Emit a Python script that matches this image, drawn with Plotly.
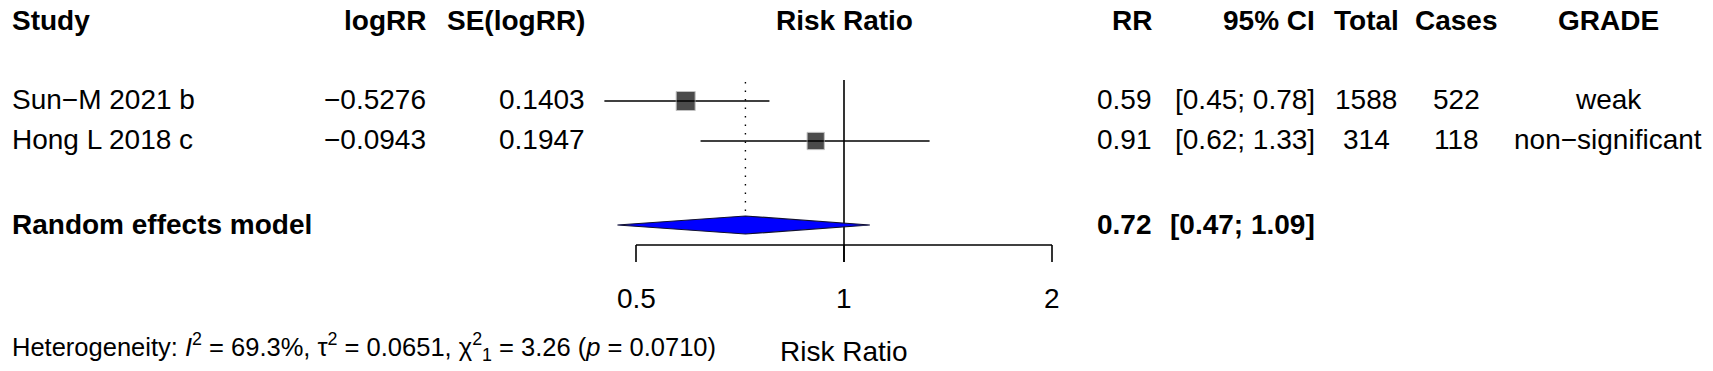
import plotly.graph_objects as go
import numpy as np

# ---------------- data ----------------
studies = ["Sun\u2212M 2021 b", "Hong L 2018 c"]
logrr = [-0.5276, -0.0943]
se_logrr = [0.1403, 0.1947]
rr = [0.59, 0.91]
ci_lo = [0.45, 0.62]
ci_hi = [0.78, 1.33]
total = [1588, 314]
cases = [522, 118]
grade = ["weak", "non\u2212significant"]

pooled_label = "Random effects model"
pooled_rr = 0.72
pooled_lo = 0.47
pooled_hi = 1.09

i2 = 69.3
tau2 = 0.0651
chi2 = 3.26
chi2_df = 1
p_het = 0.0710

tick_vals = [0.5, 1, 2]
tick_text = ["0.5", "1", "2"]
headers = ["Study", "logRR", "SE(logRR)", "Risk Ratio", "RR", "95% CI", "Total", "Cases", "GRADE"]
xlab = "Risk Ratio"

# ---------------- layout geometry ----------------
W, H = 1713, 371
px_per_dec = 416 / np.log10(4)
null_px = 844
xr = [-null_px / px_per_dec, (W - null_px) / px_per_dec]

y_header = 20
y_rows = [101 + 40 * i for i in range(len(studies))]
y_pool = 225
y_axis = 245
y_tick_end = 262
y_top = 80
y_ticklab = 298
y_bottom = 349

FONT = "Liberation Sans, Arial, sans-serif"
FS = 28
FS_HET = 25.5

fig = go.Figure()

# CI lines
for lo, hi, y in zip(ci_lo, ci_hi, y_rows):
    fig.add_trace(go.Scatter(x=[lo, hi], y=[y, y], mode="lines",
                             line=dict(color="black", width=1.6), hoverinfo="skip"))

# null line
fig.add_trace(go.Scatter(x=[1, 1], y=[y_top, y_tick_end], mode="lines",
                         line=dict(color="black", width=1.6), hoverinfo="skip"))
# pooled dotted line
fig.add_trace(go.Scatter(x=[pooled_rr, pooled_rr], y=[y_top + 2, y_pool - 9], mode="lines",
                         line=dict(color="black", width=1.4, dash="1.5px,7px"), hoverinfo="skip"))

# squares (size from random-effects weights)
w = [1.0 / (s ** 2 + tau2) for s in se_logrr]
sizes = [19 * np.sqrt(wi / max(w)) for wi in w]
fig.add_trace(go.Scatter(x=rr, y=y_rows, mode="markers",
                         marker=dict(symbol="square", size=sizes, color="black",
                                     line=dict(color="#a8a8a8", width=1)),
                         hoverinfo="skip"))

# diamond
hh = 9
fig.add_trace(go.Scatter(x=[pooled_lo, pooled_rr, pooled_hi, pooled_rr, pooled_lo],
                         y=[y_pool, y_pool - hh, y_pool, y_pool + hh, y_pool],
                         mode="lines", fill="toself", fillcolor="#0000ff",
                         line=dict(color="#101030", width=1.2), hoverinfo="skip"))

# axis line + ticks
ax_x, ax_y = [tick_vals[0], tick_vals[-1]], [y_axis, y_axis]
for t in tick_vals:
    ax_x += [None, t, t]
    ax_y += [None, y_axis, y_tick_end]
fig.add_trace(go.Scatter(x=ax_x, y=ax_y, mode="lines",
                         line=dict(color="black", width=1.6), hoverinfo="skip"))

ann = []

def txt(x, y, s, anchor="left", bold=False, xref="paper", size=FS):
    ann.append(dict(x=x / W if xref == "paper" else x, y=y, xref=xref, yref="y",
                    text=("<b>%s</b>" % s) if bold else s, showarrow=False,
                    xanchor=anchor, yanchor="middle",
                    font=dict(family=FONT, size=size, color="black")))

# header
col_x = [10, 428, 587, None, 1154, 1317, 1366, 1456, 1608]
col_anchor = ["left", "right", "right", "center", "right", "right", "center", "center", "center"]
for h, cx, ca in zip(headers, col_x, col_anchor):
    if cx is None:
        txt(0, y_header, h, "center", True, xref="x")
    else:
        txt(cx, y_header, h, ca, True)

# study rows
for i, y in enumerate(y_rows):
    yt = y - 2
    txt(10, yt, studies[i], "left")
    txt(428, yt, f"{logrr[i]:.4f}".replace("-", "\u2212"), "right")
    txt(587, yt, f"{se_logrr[i]:.4f}", "right")
    txt(1154, yt, f"{rr[i]:.2f}", "right")
    txt(1317, yt, f"[{ci_lo[i]:.2f}; {ci_hi[i]:.2f}]", "right")
    txt(1366, yt, str(total[i]), "center")
    txt(1456, yt, str(cases[i]), "center")
    txt(1608, yt, grade[i], "center")

# pooled row
txt(10, y_pool - 1, pooled_label, "left", True)
txt(1154, y_pool - 1, f"{pooled_rr:.2f}", "right", True)
txt(1317, y_pool - 1, f"[{pooled_lo:.2f}; {pooled_hi:.2f}]", "right", True)

# tick labels
for t, s in zip(tick_vals, tick_text):
    txt(np.log10(t), y_ticklab, s, "center", xref="x")

# x label
txt(0, y_bottom + 2, xlab, "center", xref="x")

# heterogeneity
het = (f"Heterogeneity: <i>I</i><sup>2</sup> = {i2:.1f}%, \u03c4<sup>2</sup> = {tau2:.4f}, "
       f"\u03c7<sup>2</sup><sub>{chi2_df}</sub> = {chi2:.2f} (<i>p</i> = {p_het:.4f})")
txt(10, y_bottom - 2, het, "left", size=FS_HET)

fig.update_layout(
    width=W, height=H, autosize=False,
    margin=dict(l=0, r=0, t=0, b=0),
    paper_bgcolor="white", plot_bgcolor="white",
    showlegend=False,
    xaxis=dict(type="log", range=xr, visible=False, fixedrange=True),
    yaxis=dict(range=[H, 0], visible=False, fixedrange=True),
    annotations=ann,
)

fig.write_html("out.html", config={"displayModeBar": False, "staticPlot": True},
               post_script="document.body.style.margin='0px';")
